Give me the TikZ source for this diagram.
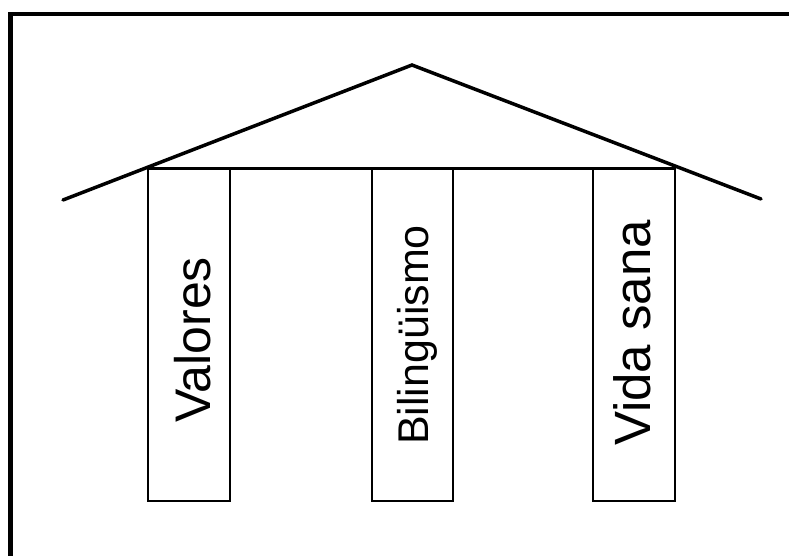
\documentclass[tikz,border=0pt]{standalone}
\usepackage{fontspec}
\setmainfont{Liberation Sans}
\tikzset{
	pillar/.style={line width=2pt},
	label/.style={rotate=90, anchor=base, inner sep=0pt}
}

\begin{document}
\begin{tikzpicture}[x=1pt, y=-1pt]
				\useasboundingbox (0,0) rectangle (789,556);
				\clip (0,0) rectangle (789,556);
				\fill[white] (0,0) rectangle (789,556);
				
				\draw[line width=4.5pt] (10.5,14) rectangle (820,600);
				
				\coordinate (eaveL) at (63,200);
				\coordinate (apex) at (412,65);
				\coordinate (eaveR) at (761,199);
				\draw[line width=3.5pt, line cap=round, line join=miter] (eaveL) -- (apex) -- (eaveR);
				
				\draw[line width=3pt] (147,168.5) -- (676,168.5);
				
				\draw[pillar] (148,168.5) rectangle (230,501);
				\draw[pillar] (372,168.5) rectangle (453,501);
				\draw[pillar] (593,168.5) rectangle (675,501);
				
				\node[label] (valores) at (210,340) {\fontsize{50}{50}\selectfont Valores};
				\node[label] (bilinguismo) at (428,335) {\fontsize{43}{43}\selectfont Bilingüismo};
				\node[label] (vidasana) at (650,333) {\fontsize{51}{51}\selectfont Vida sana};
			\end{tikzpicture}
\end{document}
